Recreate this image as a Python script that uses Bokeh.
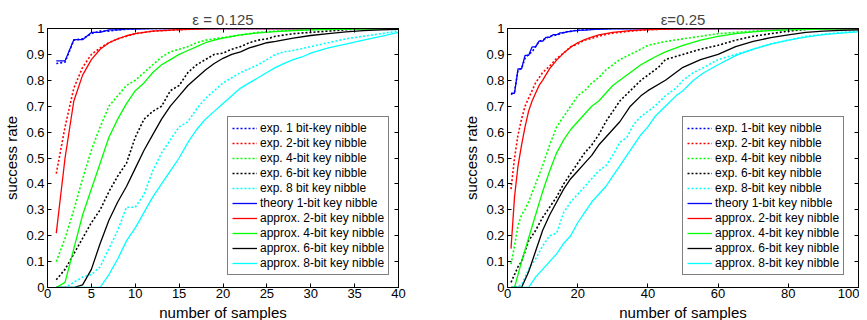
from bokeh.plotting import figure
from bokeh.layouts import row
from bokeh.models import (Legend, LegendItem, LinearAxis, SingleIntervalTicker,
                          CustomJSTickFormatter, Range1d)
from bokeh.embed import file_html
from bokeh.resources import INLINE

FONT = "Liberation Sans"

# ---------------- left panel: eps = 0.125 ----------------
L_title = "\u03b5 = 0.125"
L_exp1_x = [1, 2, 3, 4, 5, 6, 7, 8, 9, 10, 12, 40]
L_exp1_y = [0.865, 0.87, 0.955, 0.96, 0.98, 0.99, 0.99, 0.995, 0.997, 1.0, 1.0, 1.0]
L_exp2_x = [1, 2, 3, 4, 5, 6, 7, 8, 9, 10, 12, 15, 18, 40]
L_exp2_y = [0.44, 0.62, 0.77, 0.85, 0.90, 0.925, 0.945, 0.96, 0.97, 0.98, 0.99, 0.995, 1.0, 1.0]
L_exp4_x = [1, 2, 3, 4, 5, 6, 7, 8, 9, 10, 11, 12, 13, 14, 15, 16, 17, 18, 19, 20, 22, 24, 26, 28, 30, 33, 40]
L_exp4_y = [0.10, 0.19, 0.30, 0.42, 0.53, 0.62, 0.70, 0.74, 0.78, 0.80, 0.83, 0.86, 0.89, 0.91, 0.92, 0.93,
            0.945, 0.955, 0.96, 0.965, 0.975, 0.985, 0.99, 0.993, 0.996, 0.999, 1.0]
L_exp6_x = [1, 2, 3, 4, 5, 6, 7, 8, 9, 10, 11, 12, 13, 14, 15, 16, 17, 18, 19, 20, 21, 22, 23, 24, 25, 26,
            28, 30, 32, 34, 36, 40]
L_exp6_y = [0.03, 0.07, 0.13, 0.19, 0.25, 0.30, 0.37, 0.43, 0.48, 0.58, 0.65, 0.68, 0.70, 0.76, 0.78, 0.83,
            0.86, 0.88, 0.90, 0.905, 0.92, 0.93, 0.945, 0.955, 0.96, 0.97, 0.98, 0.985, 0.99, 0.995, 1.0, 1.0]
L_exp8_x = [1, 2, 3, 4, 5, 6, 7, 8, 9, 10, 11, 12, 13, 14, 15, 16, 17, 18, 19, 20, 21, 22, 23, 24, 25, 26,
            27, 28, 30, 32, 34, 36, 38, 40]
L_exp8_y = [0.0, 0.0, 0.02, 0.04, 0.05, 0.08, 0.15, 0.22, 0.31, 0.31, 0.36, 0.45, 0.52, 0.57, 0.62, 0.64,
            0.69, 0.73, 0.76, 0.79, 0.81, 0.83, 0.845, 0.86, 0.88, 0.90, 0.91, 0.915, 0.93, 0.945, 0.96,
            0.97, 0.98, 0.99]
L_th1_x = [1, 2, 3, 4, 5, 6, 7, 8, 9, 10, 11, 12, 40]
L_th1_y = [0.875, 0.875, 0.957, 0.957, 0.985, 0.985, 0.995, 0.995, 0.998, 0.998, 0.999, 1.0, 1.0]
L_ap2_x = [1, 2, 3, 4, 5, 6, 7, 8, 9, 10, 12, 15, 18, 20, 40]
L_ap2_y = [0.21, 0.50, 0.72, 0.82, 0.88, 0.92, 0.945, 0.96, 0.972, 0.98, 0.99, 0.996, 0.999, 1.0, 1.0]
L_ap4_x = [1, 2, 3, 4, 5, 6, 7, 8, 9, 10, 11, 12, 13, 14, 15, 16, 17, 18, 19, 20, 22, 24, 26, 28, 30, 35, 40]
L_ap4_y = [0.0, 0.02, 0.15, 0.28, 0.38, 0.48, 0.58, 0.65, 0.71, 0.76, 0.79, 0.83, 0.86, 0.88, 0.90, 0.915,
           0.93, 0.945, 0.955, 0.963, 0.975, 0.983, 0.988, 0.992, 0.995, 0.998, 1.0]
L_ap6_x = [1, 2, 3, 4, 5, 6, 7, 8, 9, 10, 11, 12, 13, 14, 15, 16, 17, 18, 19, 20, 21, 22, 23, 24, 25, 26,
           28, 30, 32, 34, 36, 38, 40]
L_ap6_y = [0.0, 0.0, 0.0, 0.01, 0.07, 0.17, 0.26, 0.33, 0.39, 0.46, 0.53, 0.59, 0.65, 0.70, 0.74, 0.78,
           0.81, 0.84, 0.865, 0.885, 0.90, 0.91, 0.925, 0.935, 0.945, 0.95, 0.963, 0.973, 0.98, 0.987,
           0.992, 0.995, 0.997]
L_ap8_x = [1, 2, 3, 4, 5, 6, 7, 8, 9, 10, 11, 12, 13, 14, 15, 16, 17, 18, 19, 20, 21, 22, 23, 24, 25, 26,
           27, 28, 29, 30, 32, 34, 36, 38, 40]
L_ap8_y = [0.0, 0.0, 0.0, 0.0, 0.0, 0.0, 0.05, 0.11, 0.18, 0.23, 0.29, 0.35, 0.40, 0.45, 0.50, 0.56, 0.61,
           0.65, 0.68, 0.71, 0.74, 0.77, 0.79, 0.81, 0.83, 0.85, 0.865, 0.88, 0.89, 0.905, 0.925, 0.94,
           0.955, 0.97, 0.985]
L_labels = ["exp. 1 bit-key nibble", "exp. 2-bit key nibble", "exp. 4-bit key nibble",
            "exp. 6-bit key nibble", "exp. 8 bit key nibble", "theory 1-bit key nibble",
            "approx. 2-bit key nibble", "approx. 4-bit key nibble", "approx. 6-bit key nibble",
            "approx. 8-bit key nibble"]

# ---------------- right panel: eps = 0.25 ----------------
R_title = "\u03b5=0.25"
R_exp1_x = [1, 2, 3, 4, 5, 6, 7, 8, 9, 10, 12, 14, 16, 18, 20, 25, 30, 100]
R_exp1_y = [0.745, 0.755, 0.84, 0.845, 0.885, 0.90, 0.91, 0.93, 0.95, 0.955, 0.97, 0.975, 0.985, 0.99,
            0.993, 0.998, 1.0, 1.0]
R_exp2_x = [1, 2, 3, 4, 5, 6, 7, 8, 9, 10, 12, 14, 16, 18, 20, 22, 24, 26, 28, 30, 35, 40, 45, 50, 100]
R_exp2_y = [0.38, 0.50, 0.59, 0.65, 0.70, 0.73, 0.76, 0.79, 0.81, 0.83, 0.855, 0.885, 0.905, 0.93, 0.94,
            0.955, 0.962, 0.97, 0.977, 0.982, 0.99, 0.995, 0.998, 1.0, 1.0]
R_exp4_x = [1, 2, 3, 4, 5, 6, 8, 10, 12, 14, 16, 18, 20, 22, 24, 26, 28, 30, 32, 35, 38, 40, 45, 50, 55,
            60, 65, 70, 80, 90, 100]
R_exp4_y = [0.09, 0.16, 0.24, 0.28, 0.30, 0.33, 0.40, 0.47, 0.55, 0.62, 0.66, 0.70, 0.74, 0.76, 0.79, 0.81,
            0.84, 0.86, 0.88, 0.90, 0.92, 0.935, 0.95, 0.96, 0.97, 0.98, 0.985, 0.99, 0.997, 1.0, 1.0]
R_exp6_x = [1, 2, 3, 4, 5, 6, 8, 10, 12, 14, 16, 18, 20, 22, 24, 26, 28, 30, 32, 35, 38, 40, 43, 45, 50,
            55, 60, 65, 70, 75, 80, 88, 100]
R_exp6_y = [0.02, 0.05, 0.08, 0.10, 0.14, 0.18, 0.22, 0.27, 0.31, 0.35, 0.40, 0.44, 0.48, 0.52, 0.55, 0.59,
            0.64, 0.68, 0.72, 0.76, 0.80, 0.82, 0.85, 0.88, 0.90, 0.92, 0.935, 0.955, 0.97, 0.98, 0.99,
            1.0, 1.0]
R_exp8_x = [1, 2, 4, 5, 6, 8, 10, 12, 14, 16, 18, 20, 22, 24, 26, 28, 30, 32, 34, 36, 38, 40, 42, 45, 48,
            50, 53, 56, 60, 65, 70, 75, 80, 85, 90, 95, 100]
R_exp8_y = [0.0, 0.0, 0.01, 0.04, 0.07, 0.11, 0.16, 0.20, 0.21, 0.29, 0.33, 0.36, 0.39, 0.42, 0.45, 0.47,
            0.51, 0.56, 0.58, 0.63, 0.66, 0.68, 0.70, 0.74, 0.77, 0.80, 0.83, 0.85, 0.88, 0.90, 0.92,
            0.94, 0.955, 0.97, 0.978, 0.985, 0.99]
R_th1_x = [1, 2, 3, 4, 5, 6, 7, 8, 9, 10, 11, 12, 13, 14, 15, 16, 17, 18, 19, 20, 21, 22, 25, 30, 100]
R_th1_y = [0.75, 0.75, 0.844, 0.844, 0.896, 0.896, 0.929, 0.929, 0.951, 0.951, 0.966, 0.966, 0.976,
           0.976, 0.983, 0.983, 0.988, 0.988, 0.992, 0.992, 0.994, 0.994, 0.997, 0.999, 1.0]
R_ap2_x = [1, 2, 3, 4, 5, 6, 7, 8, 9, 10, 12, 14, 16, 18, 20, 22, 24, 26, 28, 30, 35, 40, 50, 60, 100]
R_ap2_y = [0.15, 0.35, 0.47, 0.55, 0.62, 0.68, 0.72, 0.75, 0.78, 0.80, 0.845, 0.878, 0.905, 0.928, 0.945,
           0.957, 0.967, 0.975, 0.98, 0.985, 0.992, 0.996, 0.999, 1.0, 1.0]
R_ap4_x = [1, 2, 4, 6, 8, 10, 12, 14, 16, 18, 20, 22, 24, 26, 28, 30, 32, 35, 38, 40, 42, 45, 50, 55, 60,
           65, 70, 75, 80, 90, 100]
R_ap4_y = [0.0, 0.0, 0.10, 0.19, 0.28, 0.37, 0.45, 0.52, 0.57, 0.61, 0.64, 0.67, 0.70, 0.72, 0.75, 0.78,
           0.80, 0.83, 0.86, 0.875, 0.89, 0.91, 0.935, 0.955, 0.97, 0.98, 0.987, 0.992, 0.995, 0.998, 1.0]
R_ap6_x = [1, 2, 3, 4, 5, 6, 8, 10, 12, 14, 16, 18, 20, 22, 24, 26, 28, 30, 32, 35, 38, 40, 45, 50, 55, 60,
           65, 70, 75, 80, 85, 90, 95, 100]
R_ap6_y = [0.0, 0.0, 0.0, 0.0, 0.03, 0.06, 0.14, 0.22, 0.28, 0.33, 0.38, 0.42, 0.45, 0.48, 0.51, 0.55, 0.58,
           0.61, 0.64, 0.70, 0.74, 0.76, 0.80, 0.85, 0.88, 0.90, 0.93, 0.95, 0.965, 0.975, 0.985, 0.99,
           0.993, 0.995]
R_ap8_x = [1, 4, 6, 8, 10, 12, 14, 16, 18, 20, 22, 24, 26, 28, 30, 32, 34, 36, 38, 40, 42, 45, 48, 50, 53,
           56, 60, 65, 70, 75, 80, 85, 90, 95, 100]
R_ap8_y = [0.0, 0.0, 0.0, 0.04, 0.07, 0.10, 0.13, 0.17, 0.20, 0.25, 0.29, 0.33, 0.36, 0.39, 0.43, 0.47,
           0.51, 0.55, 0.59, 0.62, 0.66, 0.70, 0.74, 0.76, 0.80, 0.83, 0.86, 0.895, 0.92, 0.94, 0.955,
           0.967, 0.976, 0.982, 0.987]
R_labels = ["exp. 1-bit key nibble", "exp. 2-bit key nibble", "exp. 4-bit key nibble",
            "exp. 6-bit key nibble", "exp. 8-bit key nibble", "theory 1-bit key nibble",
            "approx. 2-bit key nibble", "approx. 4-bit key nibble", "approx. 6-bit key nibble",
            "approx. 8-bit key nibble"]

COLORS = ["#0000ff", "#ff0000", "#00ff00", "#000000", "#00ffff"]

L_series = [(L_exp1_x, L_exp1_y), (L_exp2_x, L_exp2_y), (L_exp4_x, L_exp4_y), (L_exp6_x, L_exp6_y),
            (L_exp8_x, L_exp8_y), (L_th1_x, L_th1_y), (L_ap2_x, L_ap2_y), (L_ap4_x, L_ap4_y),
            (L_ap6_x, L_ap6_y), (L_ap8_x, L_ap8_y)]
R_series = [(R_exp1_x, R_exp1_y), (R_exp2_x, R_exp2_y), (R_exp4_x, R_exp4_y), (R_exp6_x, R_exp6_y),
            (R_exp8_x, R_exp8_y), (R_th1_x, R_th1_y), (R_ap2_x, R_ap2_y), (R_ap4_x, R_ap4_y),
            (R_ap6_x, R_ap6_y), (R_ap8_x, R_ap8_y)]

FMT = CustomJSTickFormatter(code="return String(Math.round(tick*10)/10);")
BLANK = CustomJSTickFormatter(code="return '';")


def style_axis(ax, standoff=3):
    ax.axis_line_color = "black"
    ax.major_tick_in = 4
    ax.major_tick_out = 0
    ax.major_tick_line_color = "black"
    ax.minor_tick_line_color = None
    ax.major_label_text_font = FONT
    ax.major_label_text_color = "black"
    ax.major_label_text_font_size = "13px"
    ax.major_label_standoff = standoff
    ax.axis_label_text_font = FONT
    ax.axis_label_text_font_size = "15px"
    ax.axis_label_text_font_style = "normal"
    ax.axis_label_text_color = "black"
    ax.axis_label_standoff = 3


def panel(title, xmax, xint, series, labels, legend_xy, bl, br):
    p = figure(frame_width=351, frame_height=259, min_border_left=bl, min_border_right=br,
               min_border_top=28, min_border_bottom=28, output_backend="svg",
               toolbar_location=None, x_range=Range1d(0, xmax), y_range=Range1d(0, 1),
               title=title)
    p.title.align = "center"
    p.title.text_font = FONT
    p.title.text_font_size = "15px"
    p.title.text_font_style = "normal"
    p.title.standoff = 2
    p.xgrid.visible = False
    p.ygrid.visible = False
    p.outline_line_color = "black"
    p.outline_line_width = 1
    p.background_fill_color = "white"
    p.border_fill_color = "white"

    p.xaxis.ticker = SingleIntervalTicker(interval=xint, num_minor_ticks=0)
    p.yaxis.ticker = SingleIntervalTicker(interval=0.1, num_minor_ticks=0)
    p.yaxis.formatter = FMT
    p.xaxis.axis_label = "number of samples"
    p.yaxis.axis_label = "success rate"
    style_axis(p.xaxis[0], 1)
    style_axis(p.yaxis[0], 3)

    ax_r = LinearAxis(ticker=SingleIntervalTicker(interval=0.1, num_minor_ticks=0), formatter=BLANK)
    style_axis(ax_r, 0)
    p.add_layout(ax_r, "right")
    ax_t = LinearAxis(ticker=SingleIntervalTicker(interval=xint, num_minor_ticks=0), formatter=BLANK)
    style_axis(ax_t, 0)
    p.add_layout(ax_t, "above")

    items = []
    for i, (xs, ys) in enumerate(series):
        col = COLORS[i % 5]
        if i < 5:
            r = p.line(xs, ys, line_color=col, line_width=1.6, line_dash="2 2")
        else:
            r = p.line(xs, ys, line_color=col, line_width=1.3)
        items.append(LegendItem(label=labels[i], renderers=[r]))

    leg = Legend(items=items, location=legend_xy, label_text_font=FONT,
                 label_text_font_size="12px", label_text_color="black",
                 glyph_width=25, glyph_height=14, label_height=14, spacing=1,
                 padding=4, label_standoff=3, margin=0,
                 border_line_color="black", border_line_width=1,
                 background_fill_color="white", background_fill_alpha=1.0)
    p.add_layout(leg)
    return p


p1 = panel(L_title, 40, 5, L_series, L_labels, (180, 12), 39, 10)
p2 = panel(R_title, 100, 20, R_series, R_labels, (175, 12), 99, 1)
p = row(p1, p2, spacing=0)

open("out.html", "w").write(file_html(p, INLINE))
